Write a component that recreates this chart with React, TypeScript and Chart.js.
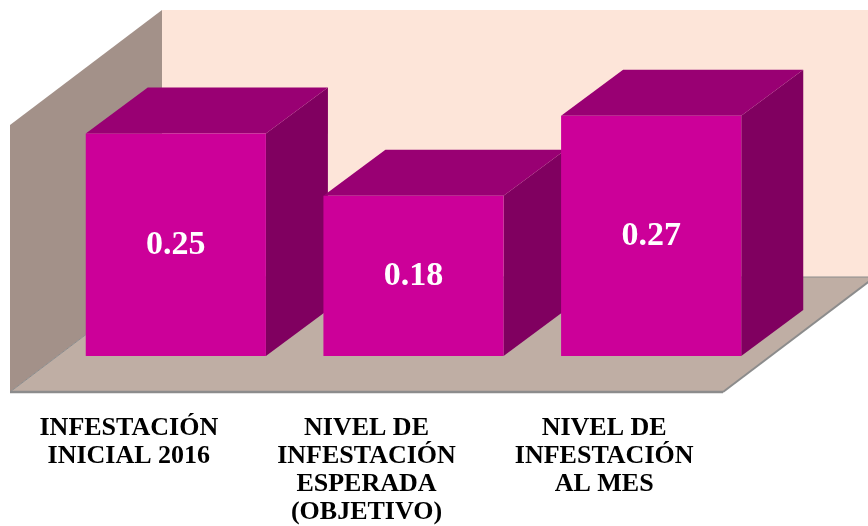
import React, { useEffect, useRef } from "react";
import { Chart, registerables } from "chart.js";

Chart.register(...registerables);

// ---- data ----
const categories: string[][] = [
  ["INFESTACIÓN", "INICIAL 2016"],
  ["NIVEL DE", "INFESTACIÓN", "ESPERADA", "(OBJETIVO)"],
  ["NIVEL DE", "INFESTACIÓN", "AL MES"],
];
const values: number[] = [0.25, 0.18, 0.27];
const axisMin = 0;
const axisMax = 0.3;

// ---- style ----
const SERIF = "'Liberation Serif', 'Times New Roman', serif";
const COLORS = {
  backWall: "#FDE5D9",
  leftWall: "#A39189",
  floor: "#BFAEA4",
  floorEdge: "#8C8C8C",
  barFront: "#CC0099",
  barTop: "#990073",
  barSide: "#800060",
};
const BAR_DEPTH = { dx: 62, dy: -46 };
const FLOOR_FRONT = { dx: -47, dy: 36 };
const FLOOR_BACK = { dx: 105, dy: -79 };

type Pt = [number, number];

function poly(ctx: CanvasRenderingContext2D, pts: Pt[], fill: string) {
  ctx.beginPath();
  ctx.moveTo(pts[0][0], pts[0][1]);
  for (let i = 1; i < pts.length; i++) ctx.lineTo(pts[i][0], pts[i][1]);
  ctx.closePath();
  ctx.fillStyle = fill;
  ctx.fill();
}

function line(ctx: CanvasRenderingContext2D, a: Pt, b: Pt, color: string, w: number) {
  ctx.beginPath();
  ctx.moveTo(a[0], a[1]);
  ctx.lineTo(b[0], b[1]);
  ctx.strokeStyle = color;
  ctx.lineWidth = w;
  ctx.stroke();
}

const box3d = {
  id: "box3d",
  beforeDatasetsDraw(chart: any) {
    const { ctx, chartArea: a, scales } = chart;
    const ys = scales.y;
    const y0 = ys.getPixelForValue(axisMin);
    const yt = ys.getPixelForValue(axisMax);
    const L = a.left;
    const R = a.right;
    const f = FLOOR_FRONT;
    const b = FLOOR_BACK;
    ctx.save();
    // back wall
    poly(ctx, [[L + b.dx, y0 + b.dy], [R + b.dx, y0 + b.dy], [R + b.dx, yt + b.dy], [L + b.dx, yt + b.dy]], COLORS.backWall);
    // left wall
    poly(ctx, [[L + f.dx, y0 + f.dy], [L + b.dx, y0 + b.dy], [L + b.dx, yt + b.dy], [L + f.dx, yt + f.dy]], COLORS.leftWall);
    // floor
    const fl: Pt[] = [[L + f.dx, y0 + f.dy], [R + f.dx, y0 + f.dy], [R + b.dx, y0 + b.dy], [L + b.dx, y0 + b.dy]];
    poly(ctx, fl, COLORS.floor);
    line(ctx, fl[2], fl[3], COLORS.floorEdge, 1);
    line(ctx, fl[3], fl[0], COLORS.floorEdge, 1);
    line(ctx, fl[0], fl[1], COLORS.floorEdge, 2.5);
    line(ctx, fl[1], fl[2], COLORS.floorEdge, 2);

    // bar side and top faces
    const meta = chart.getDatasetMeta(0);
    meta.data.forEach((bar: any) => {
      const p = bar.getProps(["x", "y", "base", "width"], true);
      const l = p.x - p.width / 2;
      const r = p.x + p.width / 2;
      const top = Math.min(p.y, p.base);
      const base = Math.max(p.y, p.base);
      const d = BAR_DEPTH;
      poly(ctx, [[r, top], [r + d.dx, top + d.dy], [r + d.dx, base + d.dy], [r, base]], COLORS.barSide);
      poly(ctx, [[l, top], [r, top], [r + d.dx, top + d.dy], [l + d.dx, top + d.dy]], COLORS.barTop);
    });
    ctx.restore();
  },
  afterDatasetsDraw(chart: any) {
    const { ctx } = chart;
    const meta = chart.getDatasetMeta(0);
    ctx.save();
    ctx.font = `bold 34px ${SERIF}`;
    ctx.fillStyle = "#FFFFFF";
    ctx.textAlign = "center";
    ctx.textBaseline = "middle";
    meta.data.forEach((bar: any, i: number) => {
      const p = bar.getProps(["x", "y", "base"], true);
      ctx.fillText(values[i].toFixed(2), p.x, (p.y + p.base) / 2);
    });
    ctx.restore();
  },
};

export default function App() {
  const ref = useRef<HTMLCanvasElement | null>(null);
  useEffect(() => {
    document.body.style.margin = "0";
    const canvas = ref.current;
    if (!canvas) return;
    const chart = new Chart(canvas, {
      type: "bar",
      data: {
        labels: categories,
        datasets: [
          {
            data: values,
            backgroundColor: COLORS.barFront,
            borderWidth: 0,
            barPercentage: 0.758,
            categoryPercentage: 1,
          },
        ],
      },
      options: {
        responsive: false,
        animation: false,
        layout: { padding: { left: 57, right: 98, top: 89, bottom: 0 } },
        plugins: {
          legend: { display: false },
          tooltip: { enabled: false },
          title: { display: false },
        },
        scales: {
          x: {
            grid: { display: false },
            border: { display: false },
            ticks: {
              autoSkip: false,
              maxRotation: 0,
              minRotation: 0,
              padding: 50,
              labelOffset: -47,
              color: "#000000",
              font: { family: SERIF, weight: "bold", size: 26, lineHeight: "28px" },
            },
            afterFit: (s: any) => {
              s.height = 170;
            },
          },
          y: {
            display: false,
            min: axisMin,
            max: axisMax,
          },
        },
      },
      plugins: [box3d],
    } as any);
    return () => chart.destroy();
  }, []);
  return <canvas ref={ref} width={868} height={526} />;
}
